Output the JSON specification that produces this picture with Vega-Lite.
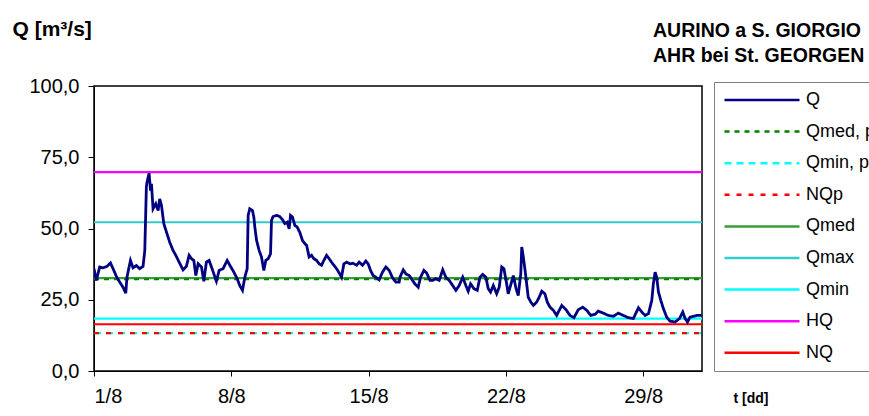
{
  "$schema": "https://vega.github.io/schema/vega-lite/v6.json",
  "autosize": {"type": "none"},
  "width": 608,
  "height": 285,
  "padding": {"left": 94, "top": 86, "right": 167, "bottom": 45},
  "background": "white",
  "title": {
    "text": ["AURINO a S. GIORGIO", "AHR bei St. GEORGEN"],
    "anchor": "end",
    "align": "left",
    "frame": "group",
    "dx": -49,
    "offset": -48,
    "lineHeight": 25,
    "font": "Liberation Sans",
    "fontSize": 19.5,
    "fontWeight": "bold",
    "color": "black"
  },
  "config": {
    "view": {"stroke": "black", "strokeWidth": 1.5},
    "axis": {"labelFont": "Liberation Sans", "labelFontSize": 20, "labelColor": "black", "domainColor": "black", "tickColor": "black", "grid": false, "titleColor": "black"}
  },
  "datasets": {
    "refs": [
      {"series": "Qmed", "t": 1, "v": 32.6}, {"series": "Qmed", "t": 32, "v": 32.6},
      {"series": "Qmed, p", "t": 1, "v": 32.2}, {"series": "Qmed, p", "t": 32, "v": 32.2},
      {"series": "Qmax", "t": 1, "v": 52.2}, {"series": "Qmax", "t": 32, "v": 52.2},
      {"series": "Qmin", "t": 1, "v": 18.4}, {"series": "Qmin", "t": 32, "v": 18.4},
      {"series": "Qmin, p", "t": 1, "v": 13.3}, {"series": "Qmin, p", "t": 32, "v": 13.3},
      {"series": "NQp", "t": 1, "v": 13.3}, {"series": "NQp", "t": 32, "v": 13.3},
      {"series": "HQ", "t": 1, "v": 69.8}, {"series": "HQ", "t": 32, "v": 69.8},
      {"series": "NQ", "t": 1, "v": 16.4}, {"series": "NQ", "t": 32, "v": 16.4}
    ],
    "q": [
      {"series":"Q","t":1.0,"v":35.9},{"series":"Q","t":1.12,"v":31.8},{"series":"Q","t":1.29,"v":36.5},{"series":"Q","t":1.46,"v":36.2},{"series":"Q","t":1.66,"v":36.7},{"series":"Q","t":1.84,"v":37.9},{"series":"Q","t":2.01,"v":35.3},{"series":"Q","t":2.14,"v":33.2},{"series":"Q","t":2.31,"v":31.2},{"series":"Q","t":2.48,"v":29.4},{"series":"Q","t":2.62,"v":27.3},{"series":"Q","t":2.68,"v":32.9},{"series":"Q","t":2.86,"v":38.8},{"series":"Q","t":2.99,"v":36.2},{"series":"Q","t":3.16,"v":37.0},{"series":"Q","t":3.33,"v":35.9},{"series":"Q","t":3.5,"v":36.7},{"series":"Q","t":3.59,"v":42.3},{"series":"Q","t":3.67,"v":64.5},{"series":"Q","t":3.7,"v":66.2},{"series":"Q","t":3.81,"v":69.4},{"series":"Q","t":3.88,"v":63.3},{"series":"Q","t":3.93,"v":65.7},{"series":"Q","t":4.01,"v":56.9},{"series":"Q","t":4.15,"v":58.7},{"series":"Q","t":4.27,"v":56.3},{"series":"Q","t":4.35,"v":60.4},{"series":"Q","t":4.44,"v":58.1},{"series":"Q","t":4.56,"v":51.7},{"series":"Q","t":4.72,"v":48.2},{"series":"Q","t":4.86,"v":45.2},{"series":"Q","t":5.03,"v":42.3},{"series":"Q","t":5.17,"v":40.6},{"series":"Q","t":5.34,"v":38.2},{"series":"Q","t":5.54,"v":35.5},{"series":"Q","t":5.71,"v":36.7},{"series":"Q","t":5.85,"v":40.6},{"series":"Q","t":5.97,"v":39.4},{"series":"Q","t":6.09,"v":38.8},{"series":"Q","t":6.19,"v":33.5},{"series":"Q","t":6.31,"v":37.6},{"series":"Q","t":6.48,"v":36.5},{"series":"Q","t":6.6,"v":31.5},{"series":"Q","t":6.73,"v":38.2},{"series":"Q","t":6.87,"v":38.8},{"series":"Q","t":6.99,"v":36.5},{"series":"Q","t":7.11,"v":34.1},{"series":"Q","t":7.24,"v":31.5},{"series":"Q","t":7.38,"v":35.3},{"series":"Q","t":7.58,"v":35.9},{"series":"Q","t":7.79,"v":38.8},{"series":"Q","t":7.96,"v":36.7},{"series":"Q","t":8.13,"v":34.7},{"series":"Q","t":8.3,"v":32.4},{"series":"Q","t":8.43,"v":30.0},{"series":"Q","t":8.57,"v":28.3},{"series":"Q","t":8.69,"v":32.9},{"series":"Q","t":8.81,"v":35.9},{"series":"Q","t":8.86,"v":54.6},{"series":"Q","t":8.94,"v":56.9},{"series":"Q","t":9.08,"v":56.3},{"series":"Q","t":9.15,"v":54.0},{"series":"Q","t":9.2,"v":50.5},{"series":"Q","t":9.29,"v":45.8},{"series":"Q","t":9.42,"v":42.3},{"series":"Q","t":9.54,"v":40.0},{"series":"Q","t":9.66,"v":35.3},{"series":"Q","t":9.76,"v":38.8},{"series":"Q","t":9.88,"v":39.4},{"series":"Q","t":10.0,"v":41.1},{"series":"Q","t":10.05,"v":52.8},{"series":"Q","t":10.13,"v":54.2},{"series":"Q","t":10.31,"v":54.6},{"series":"Q","t":10.47,"v":54.2},{"series":"Q","t":10.61,"v":53.1},{"series":"Q","t":10.73,"v":51.7},{"series":"Q","t":10.85,"v":52.2},{"series":"Q","t":10.95,"v":49.9},{"series":"Q","t":11.02,"v":54.6},{"series":"Q","t":11.12,"v":54.0},{"series":"Q","t":11.24,"v":51.1},{"series":"Q","t":11.36,"v":50.5},{"series":"Q","t":11.49,"v":48.7},{"series":"Q","t":11.63,"v":45.8},{"series":"Q","t":11.75,"v":44.7},{"series":"Q","t":11.84,"v":44.1},{"series":"Q","t":11.97,"v":40.0},{"series":"Q","t":12.09,"v":40.6},{"series":"Q","t":12.21,"v":39.4},{"series":"Q","t":12.35,"v":38.8},{"series":"Q","t":12.48,"v":37.6},{"series":"Q","t":12.6,"v":37.1},{"series":"Q","t":12.72,"v":38.8},{"series":"Q","t":12.86,"v":40.6},{"series":"Q","t":12.99,"v":39.4},{"series":"Q","t":13.11,"v":38.2},{"series":"Q","t":13.23,"v":37.1},{"series":"Q","t":13.37,"v":35.9},{"series":"Q","t":13.5,"v":34.4},{"series":"Q","t":13.62,"v":32.9},{"series":"Q","t":13.74,"v":37.6},{"series":"Q","t":13.88,"v":38.2},{"series":"Q","t":14.05,"v":37.6},{"series":"Q","t":14.21,"v":37.8},{"series":"Q","t":14.39,"v":37.1},{"series":"Q","t":14.52,"v":38.2},{"series":"Q","t":14.69,"v":37.1},{"series":"Q","t":14.86,"v":38.6},{"series":"Q","t":14.98,"v":37.6},{"series":"Q","t":15.1,"v":35.3},{"series":"Q","t":15.23,"v":33.5},{"series":"Q","t":15.41,"v":32.7},{"series":"Q","t":15.54,"v":32.0},{"series":"Q","t":15.71,"v":34.7},{"series":"Q","t":15.88,"v":36.5},{"series":"Q","t":16.05,"v":35.3},{"series":"Q","t":16.22,"v":32.7},{"series":"Q","t":16.39,"v":31.2},{"series":"Q","t":16.56,"v":31.2},{"series":"Q","t":16.6,"v":32.9},{"series":"Q","t":16.77,"v":35.5},{"series":"Q","t":16.9,"v":34.1},{"series":"Q","t":17.07,"v":33.5},{"series":"Q","t":17.24,"v":31.8},{"series":"Q","t":17.36,"v":30.6},{"series":"Q","t":17.53,"v":29.4},{"series":"Q","t":17.65,"v":32.9},{"series":"Q","t":17.82,"v":35.3},{"series":"Q","t":17.96,"v":34.4},{"series":"Q","t":18.13,"v":31.8},{"series":"Q","t":18.27,"v":31.8},{"series":"Q","t":18.43,"v":32.4},{"series":"Q","t":18.6,"v":31.8},{"series":"Q","t":18.78,"v":35.5},{"series":"Q","t":18.94,"v":32.9},{"series":"Q","t":19.11,"v":31.8},{"series":"Q","t":19.29,"v":30.0},{"series":"Q","t":19.45,"v":28.3},{"series":"Q","t":19.62,"v":30.0},{"series":"Q","t":19.8,"v":32.9},{"series":"Q","t":19.96,"v":30.0},{"series":"Q","t":20.08,"v":28.0},{"series":"Q","t":20.2,"v":30.6},{"series":"Q","t":20.37,"v":28.9},{"series":"Q","t":20.54,"v":28.3},{"series":"Q","t":20.68,"v":32.9},{"series":"Q","t":20.82,"v":33.9},{"series":"Q","t":20.98,"v":32.9},{"series":"Q","t":21.1,"v":28.9},{"series":"Q","t":21.22,"v":27.7},{"series":"Q","t":21.36,"v":30.0},{"series":"Q","t":21.53,"v":27.1},{"series":"Q","t":21.66,"v":29.4},{"series":"Q","t":21.79,"v":36.5},{"series":"Q","t":21.9,"v":35.9},{"series":"Q","t":22.01,"v":31.8},{"series":"Q","t":22.12,"v":27.1},{"series":"Q","t":22.24,"v":30.0},{"series":"Q","t":22.38,"v":33.5},{"series":"Q","t":22.52,"v":28.9},{"series":"Q","t":22.63,"v":26.5},{"series":"Q","t":22.76,"v":34.1},{"series":"Q","t":22.81,"v":43.5},{"series":"Q","t":22.89,"v":40.0},{"series":"Q","t":22.98,"v":35.3},{"series":"Q","t":23.06,"v":30.6},{"series":"Q","t":23.14,"v":25.9},{"series":"Q","t":23.27,"v":24.2},{"series":"Q","t":23.4,"v":23.0},{"series":"Q","t":23.57,"v":24.2},{"series":"Q","t":23.7,"v":25.9},{"series":"Q","t":23.83,"v":28.0},{"series":"Q","t":23.99,"v":27.1},{"series":"Q","t":24.11,"v":24.2},{"series":"Q","t":24.25,"v":22.4},{"series":"Q","t":24.42,"v":21.3},{"series":"Q","t":24.59,"v":19.5},{"series":"Q","t":24.72,"v":21.3},{"series":"Q","t":24.85,"v":23.0},{"series":"Q","t":25.07,"v":21.5},{"series":"Q","t":25.27,"v":19.5},{"series":"Q","t":25.47,"v":18.7},{"series":"Q","t":25.69,"v":21.5},{"series":"Q","t":25.92,"v":22.4},{"series":"Q","t":26.12,"v":21.3},{"series":"Q","t":26.33,"v":19.5},{"series":"Q","t":26.55,"v":19.9},{"series":"Q","t":26.71,"v":21.0},{"series":"Q","t":26.97,"v":20.3},{"series":"Q","t":27.22,"v":19.5},{"series":"Q","t":27.48,"v":19.2},{"series":"Q","t":27.73,"v":20.3},{"series":"Q","t":27.99,"v":19.5},{"series":"Q","t":28.24,"v":18.7},{"series":"Q","t":28.5,"v":18.4},{"series":"Q","t":28.76,"v":22.2},{"series":"Q","t":28.93,"v":20.7},{"series":"Q","t":29.1,"v":19.5},{"series":"Q","t":29.27,"v":20.1},{"series":"Q","t":29.44,"v":24.8},{"series":"Q","t":29.52,"v":30.6},{"series":"Q","t":29.61,"v":34.7},{"series":"Q","t":29.69,"v":32.9},{"series":"Q","t":29.78,"v":27.7},{"series":"Q","t":29.9,"v":24.8},{"series":"Q","t":30.03,"v":21.9},{"series":"Q","t":30.2,"v":18.9},{"series":"Q","t":30.37,"v":17.5},{"series":"Q","t":30.63,"v":17.2},{"series":"Q","t":30.85,"v":18.4},{"series":"Q","t":31.02,"v":20.7},{"series":"Q","t":31.14,"v":18.4},{"series":"Q","t":31.26,"v":17.2},{"series":"Q","t":31.39,"v":18.9},{"series":"Q","t":31.56,"v":19.2},{"series":"Q","t":31.73,"v":19.5},{"series":"Q","t":31.99,"v":19.5}
    ]
  },
  "encoding": {
    "x": {
      "field": "t", "type": "quantitative",
      "scale": {"domain": [1, 32], "nice": false, "zero": false},
      "axis": {
        "values": [1, 8, 15, 22, 29],
        "labelExpr": "datum.value + '/8'",
        "tickSize": 5, "labelPadding": 10,
        "title": "t [dd]",
        "titleFont": "Liberation Sans", "titleFontSize": 14, "titleFontWeight": "bold",
        "titleAnchor": "start", "titleAlign": "left", "titleBaseline": "middle",
        "titleX": 639, "titleY": 27
      }
    },
    "y": {
      "field": "v", "type": "quantitative",
      "scale": {"domain": [0, 100], "nice": false},
      "axis": {
        "values": [0, 25, 50, 75, 100],
        "labelExpr": "replace(format(datum.value, '.1f'), '.', ',')",
        "tickSize": 6, "labelPadding": 9,
        "title": "Q [m³/s]",
        "titleFont": "Liberation Sans", "titleFontSize": 21, "titleFontWeight": "bold",
        "titleAngle": 0, "titleAlign": "left", "titleBaseline": "middle",
        "titleX": -82, "titleY": -57
      }
    },
    "color": {
      "field": "series", "type": "nominal",
      "scale": {
        "domain": ["Q", "Qmed, p", "Qmin, p", "NQp", "Qmed", "Qmax", "Qmin", "HQ", "NQ"],
        "range": ["#000080", "#008000", "#00FFFF", "#FF0000", "#3C9C3C", "#33CCCC", "#00FFFF", "#FF00FF", "#FF0000"]
      },
      "legend": {
        "orient": "none", "legendX": 620, "legendY": -4,
        "title": null,
        "symbolType": "stroke", "symbolSize": 5625, "symbolStrokeWidth": 2.5,
        "clipHeight": 18,
        "labelFont": "Liberation Sans", "labelFontSize": 18, "labelColor": "black",
        "labelOffset": 5, "labelLimit": 300,
        "strokeColor": "#808080", "padding": 9, "rowPadding": 13.6
      }
    },
    "strokeDash": {
      "field": "series", "type": "nominal",
      "scale": {
        "domain": ["Q", "Qmed, p", "Qmin, p", "NQp", "Qmed", "Qmax", "Qmin", "HQ", "NQ"],
        "range": [[1, 0], [5, 5], [7, 5], [5, 7], [1, 0], [1, 0], [1, 0], [1, 0], [1, 0]]
      }
    }
  },
  "layer": [
    {"data": {"name": "refs"}, "mark": {"type": "line", "strokeWidth": 2.2, "clip": true}, "encoding": {"detail": {"field": "series"}}},
    {"data": {"name": "q"}, "mark": {"type": "line", "strokeWidth": 2.8, "clip": true}}
  ]
}
